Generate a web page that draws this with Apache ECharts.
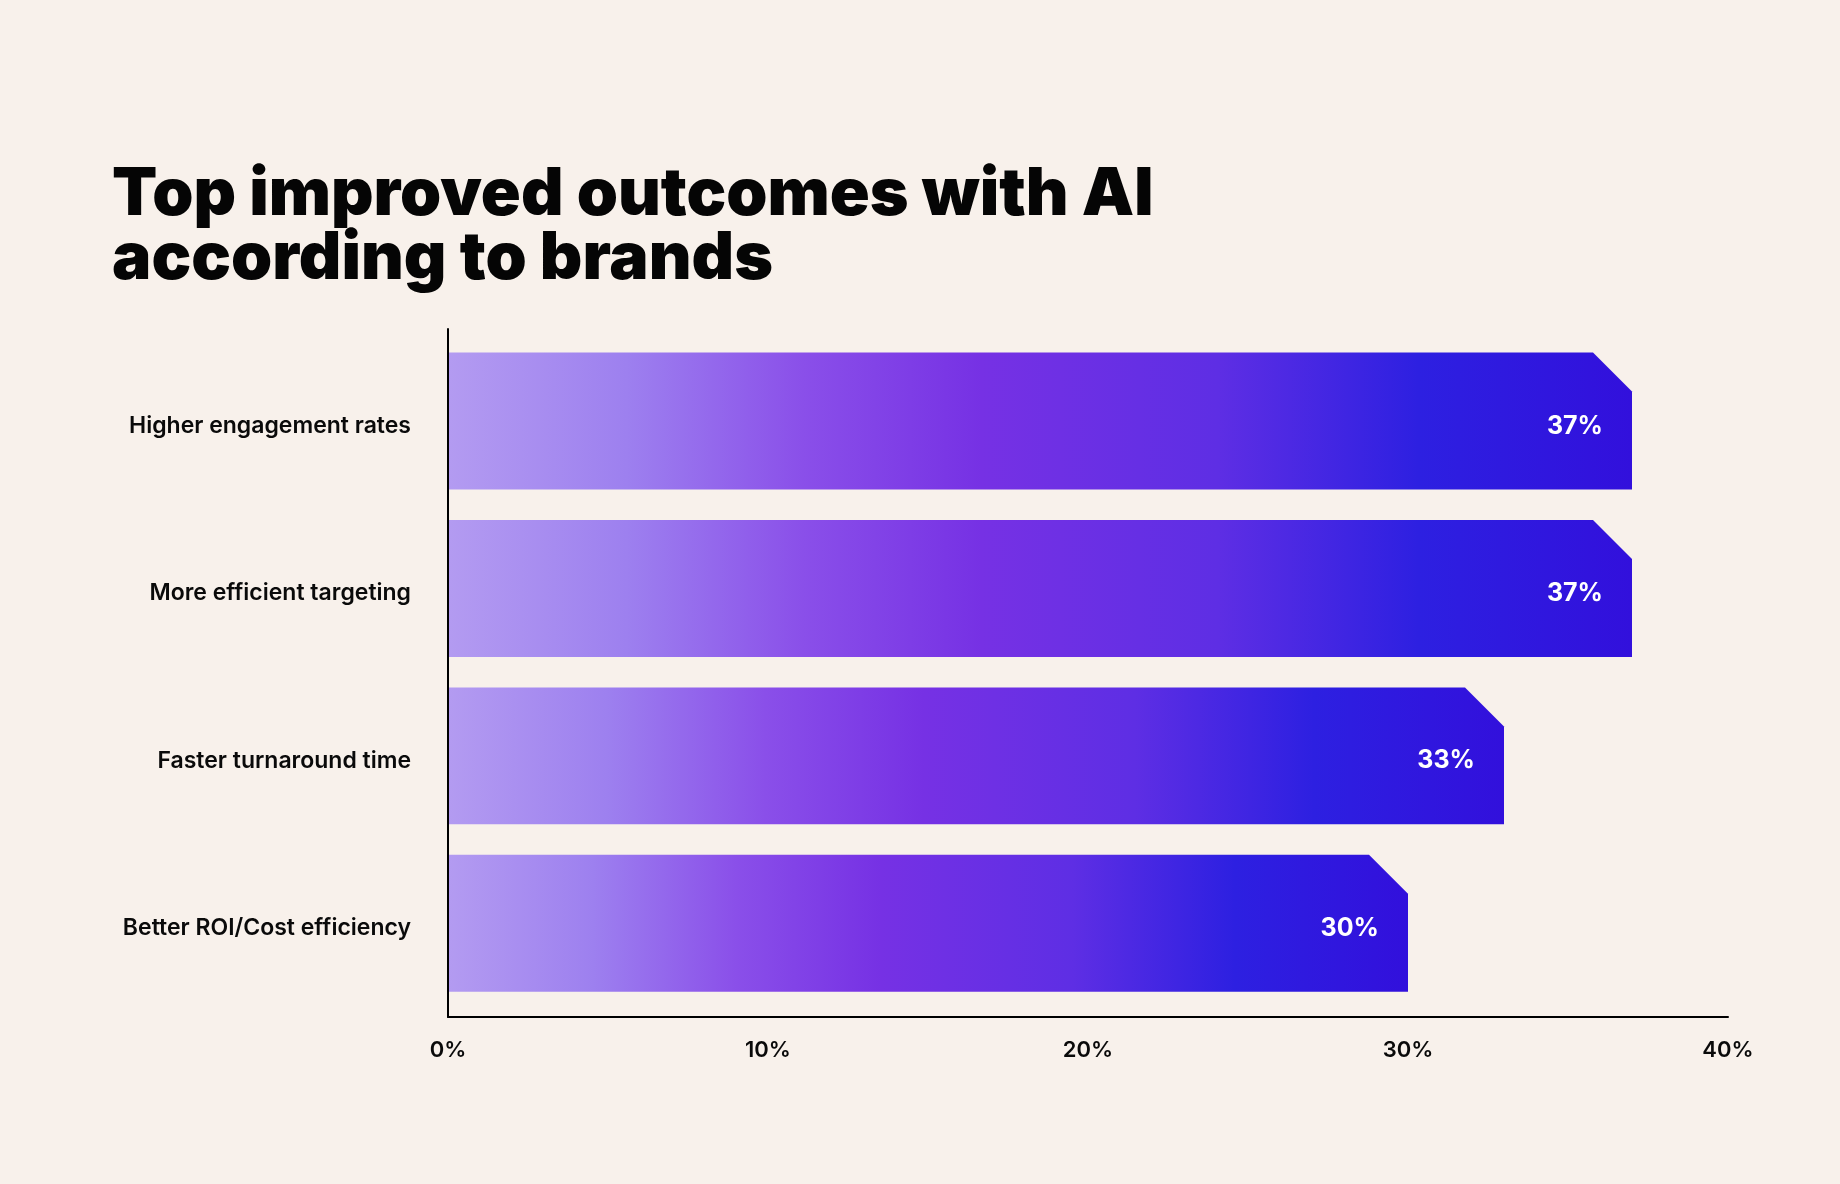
<!DOCTYPE html>
<html>
<head>
<meta charset="utf-8">
<script src="https://cdn.jsdelivr.net/npm/echarts@6/dist/echarts.min.js"></script>
<style>
html, body { margin: 0; padding: 0; background: #f8f1eb; }
#chart { width: 1840px; height: 1184px; }
</style>
</head>
<body>
<div id="chart"></div>
<script>
// data
var categories = ['Higher engagement rates', 'More efficient targeting', 'Faster turnaround time', 'Better ROI/Cost efficiency'];
var values = [37, 37, 33, 30];
var xTicks = [0, 10, 20, 30, 40];

var chart = echarts.init(document.getElementById('chart'));

var barGradient = new echarts.graphic.LinearGradient(0, 0, 1, 0, [
    { offset: 0, color: '#b39bf1' },
    { offset: 0.15, color: '#9d80ef' },
    { offset: 0.3, color: '#8a4fe9' },
    { offset: 0.45, color: '#7631e4' },
    { offset: 0.65, color: '#5e2ee4' },
    { offset: 0.82, color: '#2d20e1' },
    { offset: 1, color: '#3210dc' }
]);

// 斜角柱子
function renderBar(params, api) {
    var idx = api.value(1);
    var start = api.coord([0, idx]);
    var end = api.coord([api.value(0), idx]);
    var h = api.size([0, 1])[1] * 0.818;
    var top = start[1] - h / 2;
    var bottom = start[1] + h / 2;
    var cut = 39;
    return {
        type: 'group',
        children: [
            {
                type: 'polygon',
                shape: {
                    points: [
                        [start[0] + 1, top],
                        [end[0] - cut, top],
                        [end[0], top + cut],
                        [end[0], bottom],
                        [start[0] + 1, bottom]
                    ]
                },
                style: { fill: barGradient }
            },
            {
                type: 'text',
                x: end[0] - 29,
                y: start[1] + 5,
                style: {
                    text: api.value(0) + '%',
                    fill: '#ffffff',
                    font: '700 25px Inter',
                    align: 'right',
                    verticalAlign: 'middle'
                }
            },
            {
                type: 'text',
                x: start[0] - 37,
                y: start[1] + 5,
                style: {
                    text: categories[idx],
                    fill: '#0a0a0a',
                    font: '600 23px Inter',
                    align: 'right',
                    verticalAlign: 'middle'
                }
            }
        ]
    };
}

var seriesData = values.map(function (v, i) { return [v, i]; });

var option = {
    backgroundColor: '#f8f1eb',
    animation: false,
    title: {
        text: 'Top improved outcomes with AI\naccording to brands',
        left: 107,
        top: 158,
        textStyle: {
            fontFamily: 'Inter',
            fontWeight: 900,
            fontSize: 66,
            lineHeight: 64,
            color: '#050505'
        }
    },
    grid: {
        left: 448,
        right: 112,
        top: 329,
        bottom: 167
    },
    xAxis: {
        type: 'value',
        min: xTicks[0],
        max: xTicks[xTicks.length - 1],
        interval: 10,
        axisLine: { show: true, onZero: false, lineStyle: { color: '#000', width: 2 } },
        axisTick: { show: false },
        splitLine: { show: false },
        axisLabel: {
            formatter: '{value}%',
            margin: 22,
            color: '#0a0a0a',
            fontFamily: 'Inter',
            fontWeight: 600,
            fontSize: 22
        }
    },
    yAxis: {
        type: 'value',
        inverse: true,
        min: -0.55,
        max: 3.56,
        axisLine: { show: true, onZero: false, lineStyle: { color: '#000', width: 2 } },
        axisTick: { show: false },
        axisLabel: { show: false },
        splitLine: { show: false }
    },
    series: [
        {
            type: 'custom',
            renderItem: renderBar,
            data: seriesData,
            encode: { x: 0, y: 1 }
        }
    ]
};

chart.setOption(option);
</script>
</body>
</html>
